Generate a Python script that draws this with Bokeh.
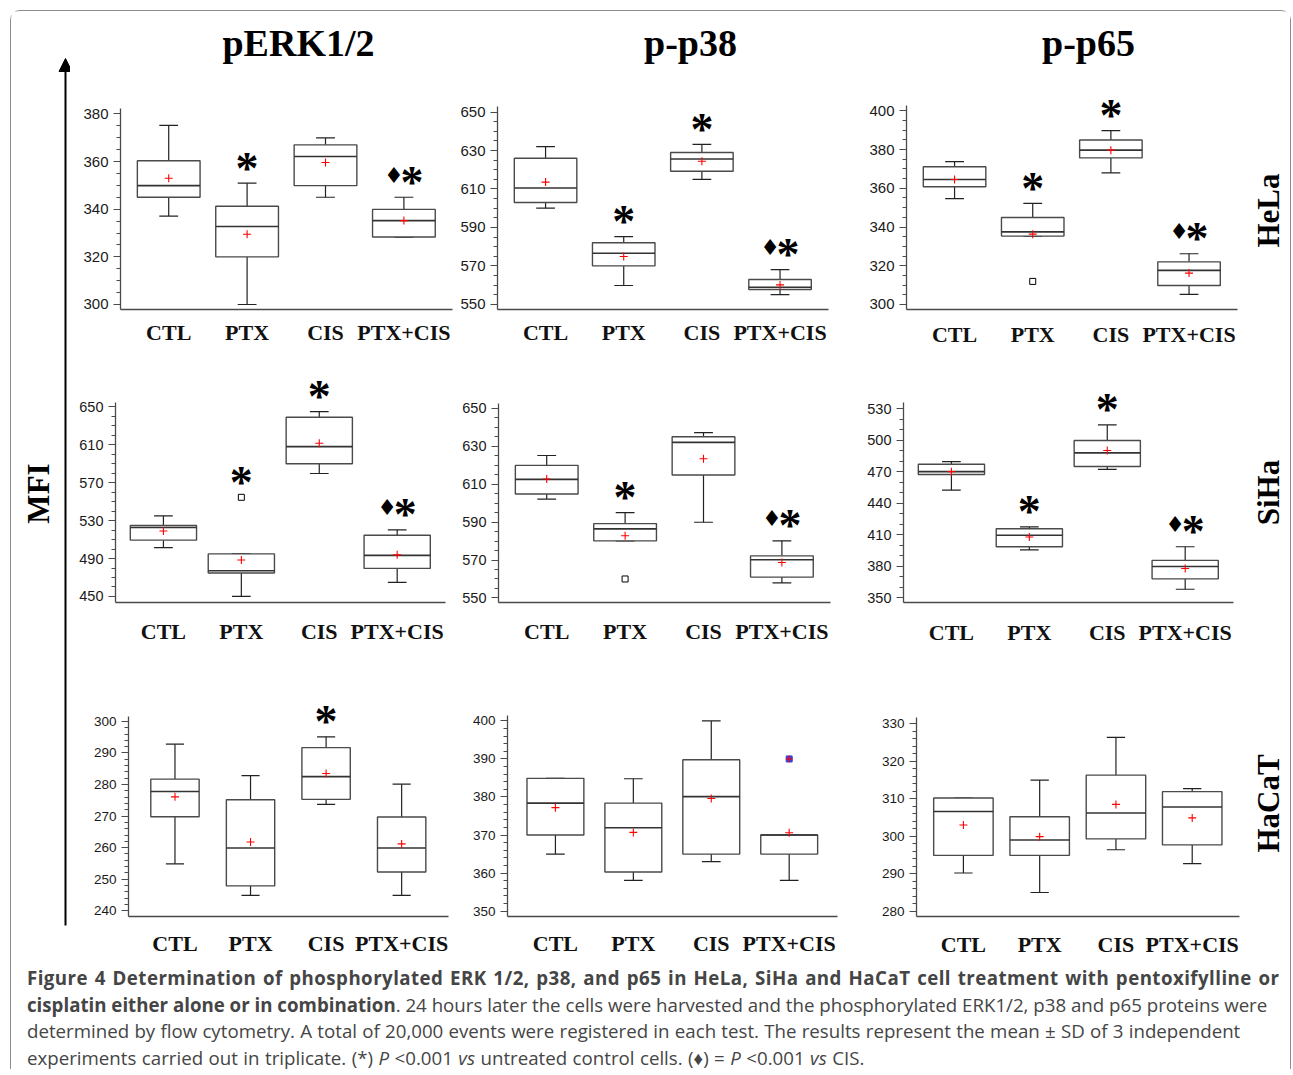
from bokeh.plotting import figure
from bokeh.layouts import row, column
from bokeh.models import Range1d, FixedTicker, ColumnDataSource, Arrow, NormalHead, Div
from bokeh.core.properties import value
from bokeh.embed import file_html
from bokeh.resources import INLINE

CATEGORIES = ["CTL", "PTX", "CIS", "PTX+CIS"]
PROTEINS = ["pERK1/2", "p-p38", "p-p65"]
CELL_LINES = ["HeLa", "SiHa", "HaCaT"]

# ---------------- HeLa ----------------
HELA_ERK_LO = [337.1, 300.0, 345.0, 328.3]
HELA_ERK_Q1 = [345.0, 320.0, 349.9, 328.3]
HELA_ERK_MED = [349.9, 332.7, 362.1, 335.2]
HELA_ERK_Q3 = [360.3, 341.2, 367.0, 339.9]
HELA_ERK_HI = [375.2, 350.9, 369.9, 345.0]
HELA_ERK_MEAN = [353.0, 329.5, 359.6, 335.2]
HELA_ERK_OUT_CAT = []
HELA_ERK_OUT_VAL = []
HELA_ERK_SIG = ["", "*", "", "♦*"]

HELA_P38_LO = [600.0, 559.8, 615.0, 555.0]
HELA_P38_Q1 = [603.0, 570.0, 619.2, 557.7]
HELA_P38_MED = [610.5, 576.6, 625.6, 558.9]
HELA_P38_Q3 = [626.0, 582.0, 629.0, 562.9]
HELA_P38_HI = [632.0, 585.2, 633.2, 568.0]
HELA_P38_MEAN = [613.6, 574.9, 624.4, 560.1]
HELA_P38_OUT_CAT = []
HELA_P38_OUT_VAL = []
HELA_P38_SIG = ["", "*", "*", "♦*"]

HELA_P65_LO = [354.7, 335.3, 368.0, 305.2]
HELA_P65_Q1 = [360.8, 335.3, 375.7, 309.8]
HELA_P65_MED = [364.5, 337.5, 379.7, 317.6]
HELA_P65_Q3 = [371.1, 344.9, 384.9, 322.0]
HELA_P65_HI = [373.8, 352.2, 389.8, 326.2]
HELA_P65_MEAN = [364.5, 336.3, 379.7, 316.2]
HELA_P65_OUT_CAT = ["PTX"]
HELA_P65_OUT_VAL = [311.9]
HELA_P65_SIG = ["", "*", "*", "♦*"]

# ---------------- SiHa ----------------
SIHA_ERK_LO = [501.5, 450.0, 579.7, 464.8]
SIHA_ERK_Q1 = [509.4, 474.7, 590.0, 479.6]
SIHA_ERK_MED = [522.7, 477.1, 608.1, 493.3]
SIHA_ERK_Q3 = [524.8, 494.9, 639.0, 514.5]
SIHA_ERK_HI = [535.0, 494.9, 644.9, 520.3]
SIHA_ERK_MEAN = [519.0, 488.4, 611.6, 493.9]
SIHA_ERK_OUT_CAT = ["PTX"]
SIHA_ERK_OUT_VAL = [554.6]
SIHA_ERK_SIG = ["", "*", "*", "♦*"]

SIHA_P38_LO = [602.1, 580.1, 589.9, 557.9]
SIHA_P38_Q1 = [604.8, 580.1, 614.8, 561.0]
SIHA_P38_MED = [612.5, 586.4, 632.0, 570.1]
SIHA_P38_Q3 = [619.9, 589.2, 635.0, 572.2]
SIHA_P38_HI = [625.1, 595.0, 637.1, 580.1]
SIHA_P38_MEAN = [612.7, 582.8, 623.4, 568.7]
SIHA_P38_OUT_CAT = ["PTX"]
SIHA_P38_OUT_VAL = [560.0]
SIHA_P38_SIG = ["", "*", "", "♦*"]

SIHA_P65_LO = [452.4, 395.5, 472.2, 358.0]
SIHA_P65_Q1 = [467.2, 398.5, 474.9, 367.9]
SIHA_P65_MED = [470.0, 409.4, 487.9, 379.7]
SIHA_P65_Q3 = [477.1, 415.6, 499.7, 385.5]
SIHA_P65_HI = [479.6, 417.4, 514.5, 398.5]
SIHA_P65_MEAN = [470.0, 407.8, 490.1, 377.8]
SIHA_P65_OUT_CAT = []
SIHA_P65_OUT_VAL = []
SIHA_P65_SIG = ["", "*", "*", "♦*"]

# ---------------- HaCaT ----------------
HACAT_ERK_LO = [254.9, 244.9, 273.7, 244.9]
HACAT_ERK_Q1 = [269.8, 247.9, 275.3, 252.3]
HACAT_ERK_MED = [277.8, 259.9, 282.5, 259.9]
HACAT_ERK_Q3 = [281.7, 275.2, 291.7, 269.7]
HACAT_ERK_HI = [292.8, 282.8, 295.1, 280.1]
HACAT_ERK_MEAN = [276.1, 261.8, 283.5, 261.2]
HACAT_ERK_OUT_CAT = []
HACAT_ERK_OUT_VAL = []
HACAT_ERK_SIG = ["", "", "*", ""]

HACAT_P38_LO = [365.0, 358.1, 363.0, 358.1]
HACAT_P38_Q1 = [370.0, 360.3, 365.0, 365.0]
HACAT_P38_MED = [378.4, 371.9, 380.1, 370.0]
HACAT_P38_Q3 = [384.9, 378.4, 389.8, 370.0]
HACAT_P38_HI = [384.9, 384.8, 400.0, 370.0]
HACAT_P38_MEAN = [377.2, 370.7, 379.6, 370.6]
HACAT_P38_OUT_CAT = ["PTX+CIS"]
HACAT_P38_OUT_VAL = [390.0]
HACAT_P38_SIG = ["", "", "", ""]

HACAT_P65_LO = [290.2, 285.0, 296.4, 292.7]
HACAT_P65_Q1 = [294.9, 294.9, 299.3, 297.7]
HACAT_P65_MED = [306.6, 299.0, 306.2, 307.8]
HACAT_P65_Q3 = [310.2, 305.2, 316.3, 311.9]
HACAT_P65_HI = [310.2, 315.0, 326.4, 312.7]
HACAT_P65_MEAN = [303.0, 299.9, 308.5, 304.9]
HACAT_P65_OUT_CAT = []
HACAT_P65_OUT_VAL = []
HACAT_P65_SIG = ["", "", "", ""]

CAPTION_LINES = [
    "<span style=\"word-spacing:1.4px\"><b style=\"letter-spacing:0.45px\">Figure 4 Determination of phosphorylated ERK 1/2, p38, and p65 in HeLa, SiHa and HaCaT cell treatment with pentoxifylline or</b></span>",
    "<span><b>cisplatin either alone or in combination</b>. 24 hours later the cells were harvested and the phosphorylated ERK1/2, p38 and p65 proteins were</span>",
    "<span style=\"word-spacing:0.4px\">determined by flow cytometry. A total of 20,000 events were registered in each test. The results represent the mean &plusmn; SD of 3 independent</span>",
    "<span style=\"word-spacing:0.6px\">experiments carried out in triplicate. (*) <i>P</i> &lt;0.001 <i>vs</i> untreated control cells. (&#9830;) = <i>P</i> &lt;0.001 <i>vs</i> CIS.</span>",
]

PANEL_DATA = [
    [(HELA_ERK_LO, HELA_ERK_Q1, HELA_ERK_MED, HELA_ERK_Q3, HELA_ERK_HI, HELA_ERK_MEAN, HELA_ERK_OUT_CAT, HELA_ERK_OUT_VAL, HELA_ERK_SIG),
     (HELA_P38_LO, HELA_P38_Q1, HELA_P38_MED, HELA_P38_Q3, HELA_P38_HI, HELA_P38_MEAN, HELA_P38_OUT_CAT, HELA_P38_OUT_VAL, HELA_P38_SIG),
     (HELA_P65_LO, HELA_P65_Q1, HELA_P65_MED, HELA_P65_Q3, HELA_P65_HI, HELA_P65_MEAN, HELA_P65_OUT_CAT, HELA_P65_OUT_VAL, HELA_P65_SIG)],
    [(SIHA_ERK_LO, SIHA_ERK_Q1, SIHA_ERK_MED, SIHA_ERK_Q3, SIHA_ERK_HI, SIHA_ERK_MEAN, SIHA_ERK_OUT_CAT, SIHA_ERK_OUT_VAL, SIHA_ERK_SIG),
     (SIHA_P38_LO, SIHA_P38_Q1, SIHA_P38_MED, SIHA_P38_Q3, SIHA_P38_HI, SIHA_P38_MEAN, SIHA_P38_OUT_CAT, SIHA_P38_OUT_VAL, SIHA_P38_SIG),
     (SIHA_P65_LO, SIHA_P65_Q1, SIHA_P65_MED, SIHA_P65_Q3, SIHA_P65_HI, SIHA_P65_MEAN, SIHA_P65_OUT_CAT, SIHA_P65_OUT_VAL, SIHA_P65_SIG)],
    [(HACAT_ERK_LO, HACAT_ERK_Q1, HACAT_ERK_MED, HACAT_ERK_Q3, HACAT_ERK_HI, HACAT_ERK_MEAN, HACAT_ERK_OUT_CAT, HACAT_ERK_OUT_VAL, HACAT_ERK_SIG),
     (HACAT_P38_LO, HACAT_P38_Q1, HACAT_P38_MED, HACAT_P38_Q3, HACAT_P38_HI, HACAT_P38_MEAN, HACAT_P38_OUT_CAT, HACAT_P38_OUT_VAL, HACAT_P38_SIG),
     (HACAT_P65_LO, HACAT_P65_Q1, HACAT_P65_MED, HACAT_P65_Q3, HACAT_P65_HI, HACAT_P65_MEAN, HACAT_P65_OUT_CAT, HACAT_P65_OUT_VAL, HACAT_P65_SIG)],
]

# ---------------- layout / style (page pixel geometry) ----------------
ORIGIN = 11            # content origin (10px margin + 1px border)
X_RANGE = (0.385, 4.62)
COLS = [(70, 385), (455, 393), (848, 392)]
LEFT_W = COLS[0][0] - ORIGIN
RIGHT_W = 50
ROWS = [(78, 282), (360, 300), (660, 303)]
TITLE_H = ROWS[0][0] - ORIGIN
CAPTION_H = 106
STRIP_H = TITLE_H + sum(h for _, h in ROWS)

SPECS = [
    [dict(ylim=(297.9, 382.4), ypx=(108.3, 312.3), xpx=(120, 452), ticks=(300, 380, 20), nminor=4, bw=0.80, label_y=334, fs=15),
     dict(ylim=(547.3, 652.9), ypx=(106.7, 312.3), xpx=(497, 828), ticks=(550, 650, 20), nminor=4, bw=0.80, label_y=334, fs=15),
     dict(ylim=(297.4, 402.9), ypx=(105.0, 309.3), xpx=(906, 1237), ticks=(300, 400, 20), nminor=4, bw=0.80, label_y=333, fs=15)],
    [dict(ylim=(443.6, 655.0), ypx=(396.7, 602.3), xpx=(115, 445), ticks=(450, 650, 40), nminor=4, bw=0.85, label_y=630, fs=14.5),
     dict(ylim=(547.6, 652.6), ypx=(403.3, 607.7), xpx=(498, 830), ticks=(550, 650, 20), nminor=4, bw=0.80, label_y=636, fs=14.5),
     dict(ylim=(345.4, 535.6), ypx=(398.3, 603.3), xpx=(903, 1233), ticks=(350, 530, 30), nminor=3, bw=0.85, label_y=632, fs=14.5)],
    [dict(ylim=(238.2, 301.7), ypx=(712.7, 919.3), xpx=(128, 448), ticks=(240, 300, 10), nminor=5, bw=0.64, label_y=945, fs=13.5),
     dict(ylim=(348.6, 401.4), ypx=(711.7, 922.3), xpx=(507, 837), ticks=(350, 400, 10), nminor=5, bw=0.73, label_y=948, fs=13.5, out_fill="#4040d0"),
     dict(ylim=(278.6, 331.6), ypx=(717.3, 916.0), xpx=(916, 1239), ticks=(280, 330, 10), nminor=5, bw=0.78, label_y=943, fs=13.5)],
]

SERIF = "Liberation Serif"
SANS = "Liberation Sans"
LINE = "#4a4a4a"


def make_panel(d, s, col, rw):
    lo_v, q1, med, q3, hi_v, mean, out_cat, out_val, sig = d
    cl, cw = col
    rt, rh = rw
    lo, hi = s["ylim"]
    ytop, ybot = s["ypx"]
    xl, xr = s["xpx"]
    ppu = (ybot - ytop) / (hi - lo)
    extra = min(30.0, ytop - rt - 1)
    mbt = int(round(ytop - extra - rt))
    mbb = int(round(rt + rh - ybot))
    frame_h = rh - mbt - mbb
    y_end = lo + frame_h / ppu
    mbl = int(round(xl - cl))
    mbr = int(round(cl + cw - xr))

    p = figure(width=cw, height=rh, title=None, output_backend="svg", toolbar_location=None,
               x_range=Range1d(*X_RANGE), y_range=Range1d(lo, y_end),
               min_border_left=mbl, min_border_right=mbr, min_border_top=mbt, min_border_bottom=mbb)
    p.grid.visible = False
    p.outline_line_color = None
    p.background_fill_color = "white"
    p.border_fill_color = "white"

    t0, t1, step = s["ticks"]
    majors = list(range(t0, t1 + 1, step))
    sub = step / s["nminor"]
    minors = []
    v = t0
    while v <= hi + 1e-9:
        minors.append(round(v, 6))
        v += sub
    ya = p.yaxis[0]
    ya.ticker = FixedTicker(ticks=majors, minor_ticks=minors)
    ya.bounds = (lo, hi)
    ya.axis_line_color = LINE
    ya.axis_line_width = 1.3
    ya.major_tick_out = 7
    ya.major_tick_in = 0
    ya.minor_tick_out = 4
    ya.minor_tick_in = 0
    ya.major_tick_line_color = LINE
    ya.minor_tick_line_color = LINE
    ya.major_label_text_font = SANS
    ya.major_label_text_font_size = f"{s['fs']}px"
    ya.major_label_text_color = "#1a1a1a"
    ya.major_label_standoff = 5

    xa = p.xaxis[0]
    xa.ticker = FixedTicker(ticks=[1, 2, 3, 4], minor_ticks=[])
    xa.major_label_overrides = {i + 1: c for i, c in enumerate(CATEGORIES)}
    xa.axis_line_color = LINE
    xa.axis_line_width = 1.3
    xa.major_tick_out = 0
    xa.major_tick_in = 0
    xa.minor_tick_out = 0
    xa.minor_tick_in = 0
    xa.major_label_text_font = SERIF
    xa.major_label_text_font_style = "bold"
    xa.major_label_text_font_size = "22px"
    xa.major_label_text_color = "#111111"
    xa.major_label_standoff = int(round(s["label_y"] - ybot - 12))

    bw = s["bw"]
    cap = 0.24
    xs = [i + 1 for i in range(len(CATEGORIES))]
    src = ColumnDataSource(dict(
        x=xs, lo=lo_v, q1=q1, med=med, q3=q3, hi=hi_v, mean=mean,
        left=[x - bw / 2 for x in xs], right=[x + bw / 2 for x in xs],
        cl=[x - cap / 2 for x in xs], cr=[x + cap / 2 for x in xs],
    ))
    p.segment(x0="x", y0="q3", x1="x", y1="hi", source=src, line_color="#222222", line_width=1.2)
    p.segment(x0="x", y0="lo", x1="x", y1="q1", source=src, line_color="#222222", line_width=1.2)
    p.segment(x0="cl", y0="hi", x1="cr", y1="hi", source=src, line_color="#222222", line_width=1.2)
    p.segment(x0="cl", y0="lo", x1="cr", y1="lo", source=src, line_color="#222222", line_width=1.2)
    p.quad(left="left", right="right", top="q3", bottom="q1", source=src,
           fill_color="white", line_color=LINE, line_width=1.4)
    p.segment(x0="left", y0="med", x1="right", y1="med", source=src, line_color="#333333", line_width=1.6)
    p.scatter(x="x", y="mean", source=src, marker="cross", size=8, line_color="red", line_width=1.1)

    if out_cat:
        ox = [CATEGORIES.index(c) + 1 for c in out_cat]
        fill = s.get("out_fill", "white")
        p.scatter(x=ox, y=out_val, marker="square", size=6, fill_color=fill,
                  line_color="black" if fill == "white" else fill, line_width=1)
        if fill != "white":
            p.scatter(x=ox, y=out_val, marker="cross", size=7, line_color="red", line_width=1)

    # significance marks, placed just above the highest point of each group
    sx, sy, sxo, dx, dy = [], [], [], [], []
    for i, flag in enumerate(sig):
        if not flag:
            continue
        top = hi_v[i]
        for c, v in zip(out_cat, out_val):
            if CATEGORIES.index(c) == i:
                top = max(top, v)
        if "*" in flag:
            sx.append(xs[i]); sy.append(top)
            sxo.append(8 if "♦" in flag else 0)
        if "♦" in flag:
            dx.append(xs[i]); dy.append(top)
    if sx:
        p.text(x=sx, y=sy, text=["*"] * len(sx), x_offset=sxo, y_offset=-15,
               text_font=value(SERIF), text_font_style="bold", text_font_size="46px",
               text_align="center", text_baseline="alphabetic", text_color="black")
    if dx:
        p.text(x=dx, y=dy, text=["♦"] * len(dx), x_offset=-10, y_offset=-22,
               text_font=value("DejaVu Sans"), text_font_size="22px",
               text_align="center", text_baseline="middle", text_color="black")
    return p


def blank(w, h):
    f = figure(width=w, height=h, title=None, output_backend="svg", toolbar_location=None,
               x_range=Range1d(0, w), y_range=Range1d(0, h),
               x_axis_location=None, y_axis_location=None, min_border=0)
    f.grid.visible = False
    f.outline_line_color = None
    f.background_fill_color = "white"
    f.border_fill_color = "white"
    return f


# title strip
title_w = sum(w for _, w in COLS)
tfig = blank(title_w, TITLE_H)
TITLE_X = [298, 690, 1088]
tfig.text(x=[tx - COLS[0][0] for tx in TITLE_X], y=[TITLE_H - (42 - ORIGIN)] * 3, text=PROTEINS,
          text_font=value(SERIF), text_font_style="bold", text_font_size="38px",
          text_align="center", text_baseline="middle", text_color="black")

# left strip with arrow and MFI
lfig = blank(LEFT_W, STRIP_H)
lfig.add_layout(Arrow(end=NormalHead(size=13, fill_color="black", line_color="black"),
                      x_start=65 - ORIGIN, y_start=STRIP_H - (925 - ORIGIN),
                      x_end=65 - ORIGIN, y_end=STRIP_H - (58 - ORIGIN),
                      line_color="black", line_width=2))
lfig.text(x=[38 - ORIGIN], y=[STRIP_H - (493 - ORIGIN)], text=["MFI"], angle=1.5707963,
          text_font=value(SERIF), text_font_style="bold", text_font_size="31px",
          text_align="center", text_baseline="middle", text_color="black")

# right strip with cell-line labels
rfig = blank(RIGHT_W, STRIP_H)
ROW_LABEL_Y = [210, 492, 803]
rstart = COLS[2][0] + COLS[2][1]
rfig.text(x=[1268 - rstart] * 3, y=[STRIP_H - (ry - ORIGIN) for ry in ROW_LABEL_Y], text=CELL_LINES,
          angle=1.5707963, text_font=value(SERIF), text_font_style="bold", text_font_size="31px",
          text_align="center", text_baseline="middle", text_color="black")

grid_rows = []
for r in range(3):
    figs = [make_panel(PANEL_DATA[r][c], SPECS[r][c], COLS[c], ROWS[r]) for c in range(3)]
    grid_rows.append(row(*figs, spacing=0))

center = column(tfig, *grid_rows, spacing=0)
top = row(lfig, center, rfig, spacing=0)

caption = Div(
    text="<div style=\"font-family:'Open Sans';font-size:18.7px;line-height:26.5px;color:#454545;"
         "white-space:nowrap;padding-left:16px;padding-top:2px;\">" + "<br>".join(CAPTION_LINES) + "</div>",
    width=LEFT_W + title_w + RIGHT_W, height=CAPTION_H, margin=(0, 0, 0, 0))

page = column(top, caption, spacing=0, margin=(10, 0, 0, 10),
              styles={"border": "1px solid #8c8c8c", "border-bottom": "none",
                      "border-radius": "10px 10px 0 0"})

open("out.html", "w").write(file_html(page, INLINE, title="Figure 4"))
